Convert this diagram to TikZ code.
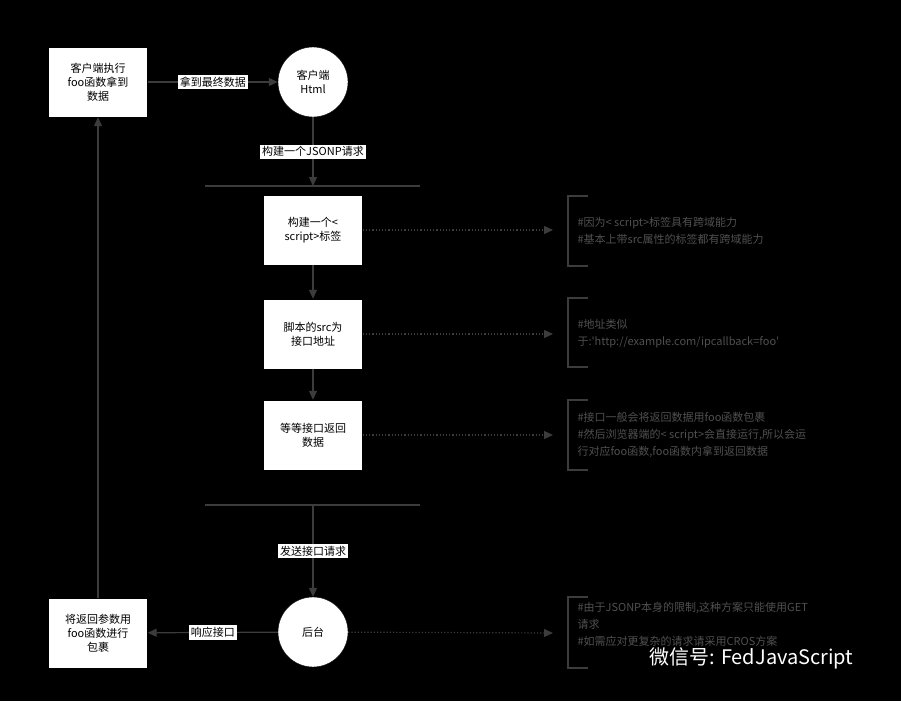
\documentclass[tikz,border=0pt]{standalone}
\usepackage{fontspec}
\setmainfont{Noto Sans CJK SC}
\usetikzlibrary{arrows.meta}
\definecolor{linegray}{HTML}{3C3C3C}
\definecolor{notegray}{HTML}{505050}
\tikzset{
  stepbox/.style={draw=black, fill=white, minimum width=99pt, minimum height=70pt, align=center, font=\fontsize{11}{14}\selectfont},
  endcircle/.style={circle, draw=black, fill=white, minimum size=70pt, align=center, font=\fontsize{11}{14}\selectfont},
  flow/.style={draw=linegray, line width=1.2pt, -{Triangle[length=9pt,width=8pt]}},
  tag/.style={fill=white, inner sep=2pt, font=\fontsize{11}{13}\selectfont},
  hint/.style={draw=linegray, line width=1.2pt, dotted, -{Triangle[length=9pt,width=8pt]}},
  brace/.style={draw=linegray, line width=1.2pt},
  note/.style={anchor=west, align=left, text=notegray, font=\fontsize{11}{17}\selectfont},
}
\begin{document}
\begin{tikzpicture}[x=1pt, y=-1pt]
\fill[black] (0,0) rectangle (901,701);
\useasboundingbox (0,0) rectangle (901,701);

\node[stepbox] (done) at (98,82) {客户端执行\\foo函数拿到\\数据};
\node[endcircle] (client) at (313,82) {客户端\\Html};
\node[stepbox] (tag) at (313,230) {构建一个<\\ script>标签};
\node[stepbox] (src) at (313,334) {脚本的src为\\接口地址};
\node[stepbox] (wait) at (313,435) {等等接口返回\\数据};
\node[endcircle] (server) at (313,632) {后台};
\node[stepbox] (wrap) at (98,633) {将返回参数用\\foo函数进行\\包裹};

% dividers
\draw[linegray, line width=1.2pt] (205,186) -- (420,186);
\draw[linegray, line width=1.2pt] (205,505) -- (420,505);
\coordinate (top) at (313,186);
\coordinate (bot) at (313,505);

\draw[flow] (done) -- node[tag] {拿到最终数据} (client);
\draw[flow] (client) -- node[tag] {构建一个JSONP请求} (top);
\draw[flow] (tag) -- (src);
\draw[flow] (src) -- (wait);
\draw[flow] (bot) -- node[tag] {发送接口请求} (server);
\draw[flow] (server) -- node[tag] {响应接口} (wrap);
\draw[flow] (wrap) -- (done);

% notes
\foreach \n/\y/\t/\b in {tag/230/196/266, src/334/298/367, wait/435/400/470, server/633/597/668}{
  \coordinate (\n-end) at (553,\y);
  \draw[hint] (\n) -- (\n-end);
  \draw[brace] (588,\t) -- (568,\t) -- (568,\b) -- (588,\b);
}
\node[note] (n1) at (574,231) {\#因为< script>标签具有跨域能力\\\#基本上带src属性的标签都有跨域能力};
\node[note] (n2) at (574,334) {\#地址类似\\于:\textquotesingle http://example.com/ipcallback=foo\textquotesingle};
\node[note] (n3) at (574,435) {\#接口一般会将返回数据用foo函数包裹\\\#然后浏览器端的< script>会直接运行,所以会运\\行对应foo函数,foo函数内拿到返回数据};
\node[note] (n4) at (574,624) {\#由于JSONP本身的限制,这种方案只能使用GET\\请求\\\#如需应对更复杂的请求请采用CROS方案};

% watermark
\node[anchor=west, text=white, font=\fontsize{20}{22}\selectfont] (mark) at (646,658) {微信号: FedJavaScript};
\end{tikzpicture}
\end{document}
